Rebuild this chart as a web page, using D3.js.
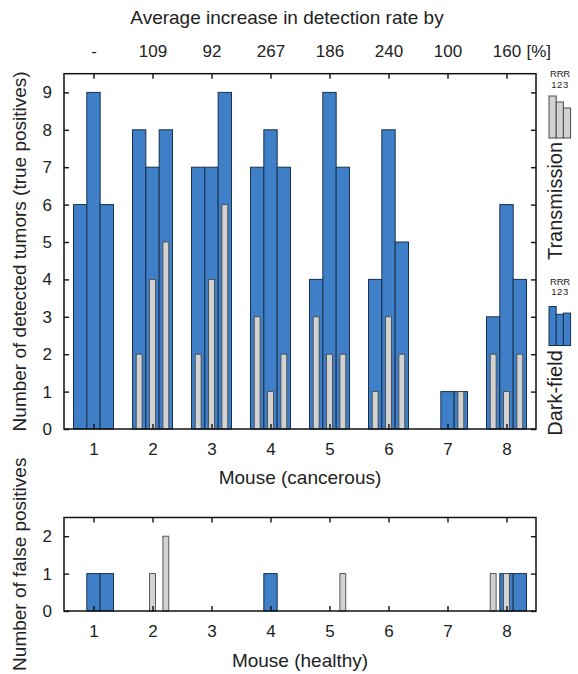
<!DOCTYPE html>
<html>
<head>
<meta charset="utf-8">
<script src="https://cdn.jsdelivr.net/npm/d3@7"></script>
<style>
  html, body { margin: 0; padding: 0; background: #fff; }
  svg { display: block; }
  text { font-family: "Liberation Sans", Arial, sans-serif; fill: #222; }
</style>
</head>
<body>
<div id="chart"></div>
<script>
// ---------- data ----------
const mice = [1, 2, 3, 4, 5, 6, 7, 8];
const increaseLabels = ["-", "109", "92", "267", "186", "240", "100", "160"];

// true positives, dark-field (blue), replicates R1..R3
const darkTP_R1 = [6, 8, 7, 7, 4, 4, 0, 3];
const darkTP_R2 = [9, 7, 7, 8, 9, 8, 1, 6];
const darkTP_R3 = [6, 8, 9, 7, 7, 5, 1, 4];
// true positives, transmission (gray)
const transTP_R1 = [0, 2, 2, 3, 3, 1, 0, 2];
const transTP_R2 = [0, 4, 4, 1, 2, 3, 0, 1];
const transTP_R3 = [0, 5, 6, 2, 2, 2, 1, 2];

// false positives (healthy mice)
const darkFP_R1 = [0, 0, 0, 0, 0, 0, 0, 0];
const darkFP_R2 = [1, 0, 0, 1, 0, 0, 0, 1];
const darkFP_R3 = [1, 0, 0, 0, 0, 0, 0, 1];
const transFP_R1 = [0, 0, 0, 0, 0, 0, 0, 1];
const transFP_R2 = [0, 1, 0, 0, 0, 0, 0, 1];
const transFP_R3 = [0, 2, 0, 0, 1, 0, 0, 0];

const tpTicks = [0, 1, 2, 3, 4, 5, 6, 7, 8, 9];
const fpTicks = [0, 1, 2];

// legend sample heights (arbitrary units)
const legendTrans = [7, 6, 5];
const legendDark = [6.5, 5.2, 5.4];

// ---------- layout ----------
const W = 578, H = 674;
const BLUE = "#3f7fc7", BLUE_EDGE = "#16324f";
const GRAY = "#d2d2d2", GRAY_EDGE = "#4a4a4a";
const groupOffset = 0.226, blueW = 0.226, grayW = 0.1;
const SANS = "'Liberation Sans', Arial, sans-serif";
const SERIF = "'Liberation Serif', 'Times New Roman', serif";

const svg = d3.select("#chart").append("svg").attr("width", W).attr("height", H);

const x = d3.scaleLinear().domain([0.5, 8.5]).range([64, 536]);
const yTP = d3.scaleLinear().domain([0, 9.5]).range([429, 73.7]);
const yFP = d3.scaleLinear().domain([0, 2.5]).range([611, 517.5]);

function drawBars(g, y, series, color, edge, width, sw) {
  series.forEach((vals, r) => {
    const off = (r - 1) * groupOffset;
    g.selectAll(null)
      .data(mice.map((m, i) => ({ m, v: vals[i] })).filter(d => d.v > 0))
      .enter().append("rect")
      .attr("x", d => x(d.m + off - width / 2))
      .attr("width", d => x(d.m + off + width / 2) - x(d.m + off - width / 2))
      .attr("y", d => y(d.v))
      .attr("height", d => y(0) - y(d.v))
      .attr("fill", color)
      .attr("stroke", edge)
      .attr("stroke-width", sw);
  });
}

function drawAxes(g, y, ticks, labelSize) {
  const [x0, x1] = x.range();
  const [yb, yt] = y.range();
  const ax = g.append("g").attr("transform", `translate(0,${yb})`)
    .call(d3.axisBottom(x).tickValues(mice).tickSizeInner(-5).tickSizeOuter(0).tickPadding(14).tickFormat(d3.format("d")));
  const axT = g.append("g").attr("transform", `translate(0,${yt})`)
    .call(d3.axisTop(x).tickValues(mice).tickSizeInner(-5).tickSizeOuter(0).tickFormat(""));
  const ay = g.append("g").attr("transform", `translate(${x0},0)`)
    .call(d3.axisLeft(y).tickValues(ticks).tickSizeInner(-5).tickSizeOuter(0).tickPadding(12).tickFormat(d3.format("d")));
  const ayR = g.append("g").attr("transform", `translate(${x1},0)`)
    .call(d3.axisRight(y).tickValues(ticks).tickSizeInner(-5).tickSizeOuter(0).tickFormat(""));
  [ax, axT, ay, ayR].forEach(a => {
    a.select(".domain").remove();
    a.selectAll(".tick line").attr("stroke", "#111").attr("stroke-width", 1.4);
    a.selectAll("text").attr("font-size", labelSize).attr("fill", "#222").attr("font-family", SANS);
  });
  g.append("rect").attr("x", x0).attr("y", yt).attr("width", x1 - x0).attr("height", yb - yt)
    .attr("fill", "none").attr("stroke", "#111").attr("stroke-width", 1.5);
}

// ---------- main chart ----------
const gMain = svg.append("g");
drawBars(gMain, yTP, [darkTP_R1, darkTP_R2, darkTP_R3], BLUE, BLUE_EDGE, blueW, 1);
drawBars(gMain, yTP, [transTP_R1, transTP_R2, transTP_R3], GRAY, GRAY_EDGE, grayW, 0.9);
drawAxes(gMain, yTP, tpTicks, 17);

// top percentage labels
const topAx = gMain.append("g").attr("transform", `translate(0,${yTP.range()[1]})`)
  .call(d3.axisTop(x).tickValues(mice).tickSize(0).tickPadding(17).tickFormat((d, i) => increaseLabels[i]));
topAx.select(".domain").remove();
topAx.selectAll("text").attr("font-size", 17).attr("fill", "#222").attr("font-family", SANS);
gMain.append("text").attr("x", x(8) + 20).attr("y", yTP.range()[1] - 17)
  .attr("font-size", 17).text("[%]");

gMain.append("text").attr("x", 287).attr("y", 24).attr("text-anchor", "middle")
  .attr("font-size", 19).text("Average increase in detection rate by");

gMain.append("text").attr("x", 300).attr("y", 484).attr("text-anchor", "middle")
  .attr("font-size", 19).text("Mouse (cancerous)");

gMain.append("text").attr("transform", `translate(26,${(yTP.range()[0] + yTP.range()[1]) / 2}) rotate(-90)`)
  .attr("text-anchor", "middle").attr("font-size", 19)
  .text("Number of detected tumors (true positives)");

// ---------- legend ----------
const lg = svg.append("g");
function legendBlock(y0, heights, color, edge, label, labelY) {
  lg.append("text").attr("x", 560).attr("y", y0 - 3).attr("text-anchor", "middle")
    .attr("font-size", 9.5).attr("fill", "#333").attr("letter-spacing", -0.2).text("RRR");
  lg.append("text").attr("x", 560).attr("y", y0 + 7.8).attr("text-anchor", "middle")
    .attr("font-size", 9.5).attr("fill", "#333").attr("letter-spacing", 0.5).text("123");
  const hs = d3.scaleLinear().domain([0, 7]).range([0, 42]);
  const base = y0 + 58;
  heights.forEach((h, i) => {
    lg.append("rect").attr("x", 549 + i * 7.2).attr("width", 7.2)
      .attr("y", base - hs(h)).attr("height", hs(h))
      .attr("fill", color).attr("stroke", edge).attr("stroke-width", 1);
  });
  lg.append("text")
    .attr("transform", `translate(562,${labelY}) rotate(-90)`)
    .attr("text-anchor", "middle").attr("font-size", 20).attr("fill", "#222")
    .attr("font-family", SERIF)
    .text(label);
}
legendBlock(80, legendTrans, GRAY, GRAY_EDGE, "Transmission", 201);
legendBlock(287.5, legendDark, BLUE, BLUE_EDGE, "Dark-field", 393);

// ---------- false positives chart ----------
const gFP = svg.append("g");
drawBars(gFP, yFP, [darkFP_R1, darkFP_R2, darkFP_R3], BLUE, BLUE_EDGE, blueW, 1);
drawBars(gFP, yFP, [transFP_R1, transFP_R2, transFP_R3], GRAY, GRAY_EDGE, grayW, 0.9);
drawAxes(gFP, yFP, fpTicks, 17);

gFP.append("text").attr("x", 300).attr("y", 667).attr("text-anchor", "middle")
  .attr("font-size", 19).text("Mouse (healthy)");
gFP.append("text").attr("transform", `translate(26,${(yFP.range()[0] + yFP.range()[1]) / 2}) rotate(-90)`)
  .attr("text-anchor", "middle").attr("font-size", 19)
  .text("Number of false positives");
</script>
</body>
</html>
